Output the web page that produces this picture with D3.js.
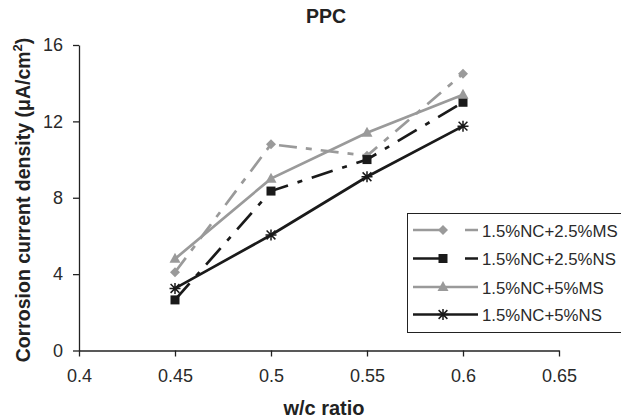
<!DOCTYPE html>
<html>
<head>
<meta charset="utf-8">
<script src="https://cdn.jsdelivr.net/npm/d3@7"></script>
<style>
  body { margin: 0; background: #fff; overflow: hidden; }
  svg { display: block; font-family: Arial, "Liberation Sans", sans-serif; }
</style>
</head>
<body>
<svg id="chart" width="621" height="420"></svg>
<script>
// w/c ratios measured and corrosion current density per mix
const wcRatios = [0.45, 0.5, 0.55, 0.6];
const seriesNames = ["1.5%NC+2.5%MS", "1.5%NC+2.5%NS", "1.5%NC+5%MS", "1.5%NC+5%NS"];
const msHalf = [4.1, 10.8, 10.2, 14.5];
const nsHalf = [2.65, 8.35, 10.0, 13.0];
const msFull = [4.8, 9.0, 11.4, 13.4];
const nsFull = [3.25, 6.05, 9.1, 11.75];
const xTicks = [0.4, 0.45, 0.5, 0.55, 0.6, 0.65];
const yTicks = [0, 4, 8, 12, 16];

const styles = [
  { values: msHalf, color: "#9a9a9a", dash: "18,9,6,9", marker: "diamond" },
  { values: nsHalf, color: "#1a1a1a", dash: "22,10,5,10", marker: "square" },
  { values: msFull, color: "#9a9a9a", dash: null, marker: "triangle" },
  { values: nsFull, color: "#1a1a1a", dash: null, marker: "star" }
];

const svg = d3.select("#chart");
const x = d3.scaleLinear().domain([0.4, 0.65]).range([79, 559]);
const y = d3.scaleLinear().domain([0, 16]).range([350.5, 45]);

// axes
const xAxis = svg.append("g").attr("transform", `translate(0,${y(0)})`)
  .call(d3.axisBottom(x).tickValues(xTicks).tickFormat(d3.format("")).tickSize(6).tickSizeOuter(0).tickPadding(13));
const yAxis = svg.append("g").attr("transform", `translate(${x(0.4)},0)`)
  .call(d3.axisLeft(y).tickValues(yTicks).tickSize(6).tickSizeOuter(0).tickPadding(10));
[xAxis, yAxis].forEach(g => {
  g.select(".domain").attr("stroke", "#222").attr("stroke-width", 1.3);
  g.selectAll(".tick line").attr("stroke", "#222").attr("stroke-width", 1.3);
  g.selectAll(".tick text").attr("fill", "#2a2a2a").style("font-size", "18px")
    .style("font-family", "Arial, 'Liberation Sans', sans-serif");
});

// marker shapes
function drawMarker(g, type, cx, cy, color) {
  if (type === "diamond") {
    g.append("path").attr("d", `M${cx},${cy-5}L${cx+5},${cy}L${cx},${cy+5}L${cx-5},${cy}Z`).attr("fill", color);
  } else if (type === "square") {
    g.append("rect").attr("x", cx-4.5).attr("y", cy-4.5).attr("width", 9).attr("height", 9).attr("fill", color);
  } else if (type === "triangle") {
    g.append("path").attr("d", `M${cx},${cy-6}L${cx+5.5},${cy+4}L${cx-5.5},${cy+4}Z`).attr("fill", color);
  } else if (type === "star") {
    const r = 5.5;
    g.append("path")
      .attr("d", `M${cx-r},${cy}L${cx+r},${cy}M${cx},${cy-r}L${cx},${cy+r}M${cx-r*0.8},${cy-r*0.8}L${cx+r*0.8},${cy+r*0.8}M${cx-r*0.8},${cy+r*0.8}L${cx+r*0.8},${cy-r*0.8}`)
      .attr("stroke", color).attr("stroke-width", 1.5).attr("fill", "none");
  }
}

const line = d3.line().x((d, i) => x(wcRatios[i])).y(d => y(d));
styles.forEach(s => {
  const g = svg.append("g");
  g.append("path").datum(s.values).attr("d", line)
    .attr("fill", "none").attr("stroke", s.color).attr("stroke-width", 2.7)
    .attr("stroke-dasharray", s.dash);
  s.values.forEach((v, i) => drawMarker(g, s.marker, x(wcRatios[i]), y(v), s.color));
});

// legend
const legend = svg.append("g");
legend.append("rect").attr("x", 407.5).attr("y", 213.5).attr("width", 230).attr("height", 119)
  .attr("fill", "#fff").attr("stroke", "#222").attr("stroke-width", 1);
const legendRows = [230, 258.5, 287, 314.5];
styles.forEach((s, i) => {
  const ly = legendRows[i];
  const g = legend.append("g");
  g.append("line").attr("x1", 413).attr("x2", 478).attr("y1", ly).attr("y2", ly)
    .attr("stroke", s.color).attr("stroke-width", 2.7)
    .attr("stroke-dasharray", s.dash ? "27,25,13,60" : null);
  drawMarker(g, s.marker, 443, ly, s.color);
  g.append("text").attr("x", 482).attr("y", ly + 6.5).text(seriesNames[i])
    .attr("fill", "#2a2a2a").style("font-size", "16.8px");
});

// titles
svg.append("text").attr("x", 326).attr("y", 23).attr("text-anchor", "middle")
  .style("font-weight", "bold").style("font-size", "19.5px").attr("fill", "#222").text("PPC");
svg.append("text").attr("x", 324).attr("y", 414.5).attr("text-anchor", "middle")
  .style("font-weight", "bold").style("font-size", "20px").attr("fill", "#222").text("w/c ratio");
const yl = svg.append("text").attr("transform", "translate(30,200) rotate(-90)")
  .attr("text-anchor", "middle").style("font-weight", "bold").style("font-size", "19.5px").attr("fill", "#222");
yl.append("tspan").text("Corrosion current density (μA/cm");
yl.append("tspan").attr("dy", -8).style("font-size", "13px").text("2");
yl.append("tspan").attr("dy", 8).text(")");
</script>
</body>
</html>
